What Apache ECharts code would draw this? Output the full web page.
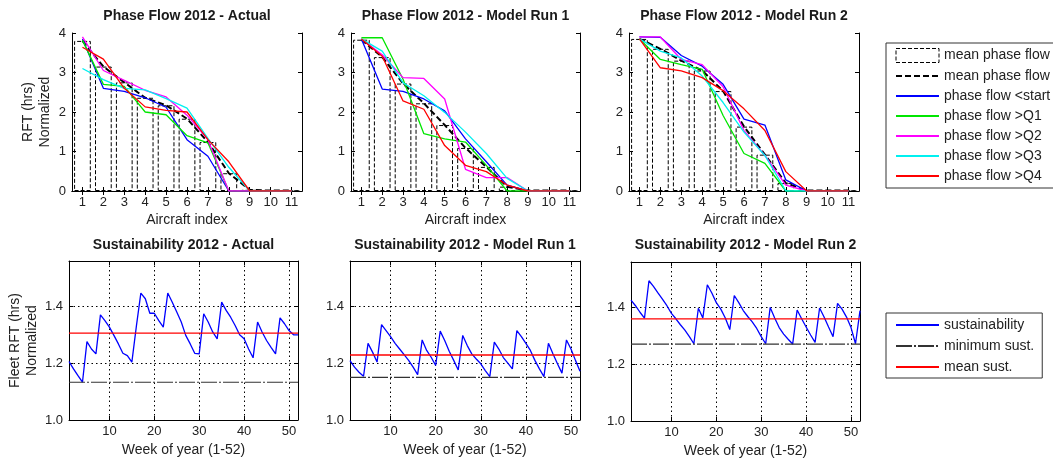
<!DOCTYPE html>
<html><head><meta charset="utf-8">
<script src="https://cdn.jsdelivr.net/npm/echarts@6/dist/echarts.min.js"></script>
<style>html,body{margin:0;padding:0;background:#fff}#c{width:1053px;height:461px}</style>
</head><body><div id="c"></div>
<script>
// ---------- DATA ----------
const aircraftIndex = ['1','2','3','4','5','6','7','8','9','10','11'];

// Phase flow 2012 - Actual
const meanActual    = [3.80, 3.15, 2.75, 2.36, 2.17, 1.83, 1.24, 0.45, 0.03, 0.01, 0.01];
const blueActual    = [3.85, 2.60, 2.52, 2.36, 2.12, 1.30, 0.88, 0, 0, 0, 0];
const greenActual   = [3.82, 2.70, 2.65, 2.00, 1.93, 1.40, 1.22, 0, 0, 0, 0];
const magentaActual = [3.90, 3.05, 2.80, 2.55, 2.38, 1.92, 1.30, 0, 0, 0, 0];
const cyanActual    = [3.10, 2.82, 2.60, 2.56, 2.34, 2.10, 1.33, 0.60, 0, 0, 0];
const redActual     = [3.64, 3.34, 2.60, 2.13, 2.04, 2.00, 1.30, 0.74, 0, 0, 0];

// Phase flow 2012 - Model Run 1
const meanRun1    = [3.83, 3.39, 2.72, 2.22, 1.67, 1.09, 0.61, 0.11, 0.01, 0.01, 0.01];
const blueRun1    = [3.85, 2.58, 2.52, 2.33, 2.03, 1.32, 0.74, 0.15, 0, 0, 0];
const greenRun1   = [3.88, 3.88, 2.83, 1.45, 1.32, 1.24, 0.65, 0, 0, 0, 0];
const magentaRun1 = [3.85, 3.45, 2.87, 2.85, 2.33, 0.55, 0.34, 0.34, 0, 0, 0];
const cyanRun1    = [3.85, 3.54, 2.74, 2.41, 1.99, 1.49, 0.95, 0.32, 0, 0, 0];
const redRun1     = [3.85, 3.41, 2.28, 2.07, 1.15, 0.65, 0.49, 0.15, 0, 0, 0];

// Phase flow 2012 - Model Run 2
const meanRun2    = [3.85, 3.60, 3.30, 3.05, 2.53, 1.63, 0.92, 0.20, 0.01, 0.01, 0.01];
const blueRun2    = [3.90, 3.89, 3.43, 3.16, 2.70, 1.82, 1.67, 0.28, 0, 0, 0];
const greenRun2   = [3.85, 3.33, 3.20, 3.08, 1.91, 0.95, 0.70, 0, 0, 0, 0];
const magentaRun2 = [3.90, 3.90, 3.33, 3.20, 2.64, 1.53, 0.90, 0.15, 0, 0, 0];
const cyanRun2    = [3.85, 3.54, 3.37, 2.91, 2.24, 1.49, 0.90, 0, 0, 0, 0];
const redRun2     = [3.85, 3.12, 3.04, 2.87, 2.54, 2.08, 1.53, 0.49, 0, 0, 0];

// Sustainability
const weeks = [1,2,3,4,5,6,7,8,9,10,11,12,13,14,15,16,17,18,19,20,21,22,23,24,25,26,
               27,28,29,30,31,32,33,34,35,36,37,38,39,40,41,42,43,44,45,46,47,48,49,50,51,52];
const weekTicks = [10, 20, 30, 40, 50];
const sustTicks = [1.0, 1.2, 1.4];
const sustActual = [1.206,1.180,1.156,1.133,1.276,1.250,1.233,1.370,1.350,1.327,
                    1.298,1.268,1.235,1.227,1.204,1.330,1.447,1.427,1.376,1.376,
                    1.350,1.327,1.447,1.415,1.380,1.345,1.298,1.268,1.235,1.233,
                    1.374,1.345,1.310,1.286,1.415,1.386,1.362,1.333,1.300,1.286,
                    1.250,1.219,1.345,1.310,1.280,1.256,1.233,1.360,1.339,1.315,
                    1.300,1.300];
const sustRun1 = [1.209,1.186,1.168,1.154,1.270,1.239,1.204,1.336,1.315,1.294,
                  1.270,1.250,1.230,1.210,1.186,1.160,1.282,1.245,1.221,1.192,
                  1.313,1.280,1.242,1.210,1.176,1.298,1.262,1.233,1.215,1.198,
                  1.174,1.153,1.274,1.250,1.220,1.200,1.180,1.315,1.294,1.270,
                  1.245,1.210,1.180,1.153,1.270,1.233,1.198,1.165,1.282,1.250,
                  1.210,1.172];
const sustRun2 = [1.426,1.406,1.383,1.362,1.494,1.474,1.451,1.429,1.406,1.379,
                  1.360,1.339,1.320,1.297,1.272,1.397,1.363,1.480,1.451,1.417,
                  1.394,1.363,1.322,1.442,1.417,1.389,1.368,1.349,1.326,1.297,
                  1.272,1.400,1.363,1.329,1.306,1.288,1.271,1.391,1.360,1.331,
                  1.303,1.277,1.398,1.366,1.331,1.297,1.414,1.394,1.366,1.329,
                  1.272,1.389];
const meanSust = [1.306, 1.229, 1.360];
const minSust  = [1.133, 1.150, 1.271];

const phaseTitles = ['Phase Flow 2012 - Actual', 'Phase Flow 2012 - Model Run 1', 'Phase Flow 2012 - Model Run 2'];
const sustTitles  = ['Sustainability 2012 - Actual', 'Sustainability 2012 - Model Run 1', 'Sustainability 2012 - Model Run 2'];
const lineNames = ['phase flow <start', 'phase flow >Q1', 'phase flow >Q2', 'phase flow >Q3', 'phase flow >Q4'];

// ---------- STYLE / LAYOUT ----------
const FONT = '"Liberation Sans", Arial, sans-serif';
const TXT = '#222';
const lineColors = ['#0000ff', '#00e600', '#ff00ff', '#00f0f0', '#ff0000'];
const topGrids = [
  {left: 72,  top: 33, width: 230, height: 158},
  {left: 351, top: 33, width: 229, height: 158},
  {left: 629, top: 33, width: 230, height: 158}
];
const botGrids = [
  {left: 69,  top: 261, width: 229, height: 159},
  {left: 350, top: 261, width: 230, height: 159},
  {left: 631, top: 262, width: 229, height: 159}
];
const phaseSets = [
  {mean: meanActual, lines: [blueActual, greenActual, magentaActual, cyanActual, redActual]},
  {mean: meanRun1,   lines: [blueRun1, greenRun1, magentaRun1, cyanRun1, redRun1]},
  {mean: meanRun2,   lines: [blueRun2, greenRun2, magentaRun2, cyanRun2, redRun2]}
];
const sustSets = [sustActual, sustRun1, sustRun2];

const axLine = {show: true, lineStyle: {color: '#000', width: 1}};
const labelStyle = {color: TXT, fontSize: 13, fontFamily: FONT};
const nameStyle = {color: TXT, fontSize: 14, fontFamily: FONT};
const minLineType = [16, 2, 2, 2];

const grid = [], xAxis = [], yAxis = [], series = [], title = [];

topGrids.forEach((g, i) => {
  grid.push(Object.assign({outerBoundsMode: 'none', containLabel: false, show: false}, g));
  title.push({text: phaseTitles[i], left: g.left + g.width / 2, top: 9, textAlign: 'center', padding: 0,
    textStyle: {fontSize: 14, fontWeight: 'bold', color: '#1a1a1a', fontFamily: FONT}});
  xAxis.push({type: 'category', gridIndex: i, data: aircraftIndex, boundaryGap: true, position: 'bottom',
    axisLine: axLine, axisTick: {show: true, inside: true, alignWithLabel: true, interval: 0, length: 4, lineStyle: {color: '#000'}},
    axisLabel: Object.assign({interval: 0, margin: 5}, labelStyle), splitLine: {show: false},
    name: 'Aircraft index', nameLocation: 'middle', nameGap: 22, nameTextStyle: nameStyle});
  xAxis.push({type: 'category', gridIndex: i, data: aircraftIndex, boundaryGap: true, position: 'top',
    axisLine: axLine, axisTick: {show: true, inside: true, alignWithLabel: true, interval: 0, length: 4, lineStyle: {color: '#000'}},
    axisLabel: {show: false}, splitLine: {show: false}});
  const yl = {type: 'value', gridIndex: i, min: 0, max: 4, interval: 1, position: 'left',
    axisLine: axLine, axisTick: {show: true, inside: true, length: 4, lineStyle: {color: '#000'}},
    axisLabel: Object.assign({margin: 6}, labelStyle), splitLine: {show: false}};
  if (i === 0) Object.assign(yl, {name: 'RFT (hrs)\nNormalized', nameLocation: 'middle', nameRotate: 90, nameGap: 18,
    nameTextStyle: Object.assign({lineHeight: 17}, nameStyle)});
  yAxis.push(yl);
  yAxis.push({type: 'value', gridIndex: i, min: 0, max: 4, interval: 1, position: 'right',
    axisLine: axLine, axisTick: {show: true, inside: true, length: 4, lineStyle: {color: '#000'}},
    axisLabel: {show: false}, splitLine: {show: false}});
  const set = phaseSets[i];
  series.push({type: 'bar', name: 'mean phase flow', xAxisIndex: 2 * i, yAxisIndex: 2 * i, data: set.mean,
    barWidth: '80%', silent: true,
    itemStyle: {color: 'rgba(0,0,0,0)', borderColor: '#000', borderWidth: 1, borderType: [4, 2]}});
  series.push({type: 'line', name: 'mean phase flow ', xAxisIndex: 2 * i, yAxisIndex: 2 * i, data: set.mean,
    symbol: 'none', silent: true, itemStyle: {color: '#000'}, lineStyle: {color: '#000', width: 2, type: [6, 3]}});
  set.lines.forEach((d, k) => {
    series.push({type: 'line', name: lineNames[k], xAxisIndex: 2 * i, yAxisIndex: 2 * i, data: d,
      symbol: 'none', silent: true, itemStyle: {color: lineColors[k]}, lineStyle: {color: lineColors[k], width: 1.3}});
  });
});

const dotted = {show: true, lineStyle: {color: '#000', width: 1, type: [1.5, 3]}};
botGrids.forEach((g, j) => {
  const gi = 3 + j;
  grid.push(Object.assign({outerBoundsMode: 'none', containLabel: false, show: false}, g));
  title.push({text: sustTitles[j], left: g.left + g.width / 2, top: 238, textAlign: 'center', padding: 0,
    textStyle: {fontSize: 14, fontWeight: 'bold', color: '#1a1a1a', fontFamily: FONT}});
  xAxis.push({type: 'value', gridIndex: gi, min: 1, max: 52, position: 'bottom',
    axisLine: axLine, axisTick: {show: true, inside: true, length: 4, customValues: weekTicks, lineStyle: {color: '#000'}},
    axisLabel: Object.assign({margin: 5, customValues: weekTicks}, labelStyle), splitLine: dotted,
    name: 'Week of year (1-52)', nameLocation: 'middle', nameGap: 23, nameTextStyle: nameStyle});
  xAxis.push({type: 'value', gridIndex: gi, min: 1, max: 52, position: 'top',
    axisLine: axLine, axisTick: {show: true, inside: true, length: 4, customValues: weekTicks, lineStyle: {color: '#000'}},
    axisLabel: {show: false}, splitLine: {show: false}});
  const yl = {type: 'value', gridIndex: gi, min: 1.0, max: 1.56, position: 'left',
    axisLine: axLine, axisTick: {show: true, inside: true, length: 4, customValues: sustTicks, lineStyle: {color: '#000'}},
    axisLabel: Object.assign({margin: 6, customValues: sustTicks, formatter: v => Number(v).toFixed(1)}, labelStyle),
    splitLine: dotted};
  if (j === 0) Object.assign(yl, {name: 'Fleet RFT (hrs)\nNormalized', nameLocation: 'middle', nameRotate: 90, nameGap: 28,
    nameTextStyle: Object.assign({lineHeight: 17}, nameStyle)});
  yAxis.push(yl);
  yAxis.push({type: 'value', gridIndex: gi, min: 1.0, max: 1.56, position: 'right',
    axisLine: axLine, axisTick: {show: true, inside: true, length: 4, customValues: sustTicks, lineStyle: {color: '#000'}},
    axisLabel: {show: false}, splitLine: {show: false}});
  series.push({type: 'line', name: 'sustainability', xAxisIndex: 2 * gi, yAxisIndex: 2 * gi,
    data: sustSets[j].map((v, k) => [weeks[k], v]), symbol: 'none', silent: true,
    itemStyle: {color: '#0000ff'}, lineStyle: {color: '#0000ff', width: 1.3}});
  series.push({type: 'line', name: 'minimum sust.', xAxisIndex: 2 * gi, yAxisIndex: 2 * gi,
    data: [[weeks[0], minSust[j]], [weeks[weeks.length - 1], minSust[j]]], symbol: 'none', silent: true,
    itemStyle: {color: '#333'}, lineStyle: {color: '#333', width: 1.2, type: minLineType}});
  series.push({type: 'line', name: 'mean sust.', xAxisIndex: 2 * gi, yAxisIndex: 2 * gi,
    data: [[weeks[0], meanSust[j]], [weeks[weeks.length - 1], meanSust[j]]], symbol: 'none', silent: true,
    itemStyle: {color: '#ff0000'}, lineStyle: {color: '#ff0000', width: 1.3}});
});

const legendText = {color: TXT, fontSize: 14, fontFamily: FONT};
const noSym = {opacity: 0};
const option = {
  animation: false,
  backgroundColor: '#fff',
  title, grid, xAxis, yAxis, series,
  legend: [
    {left: 886, top: 43, orient: 'vertical', selectedMode: false, itemWidth: 43, itemHeight: 14, itemGap: 6,
     padding: [5, 3, 5, 9], borderColor: '#333', borderWidth: 1, backgroundColor: '#fff', textStyle: legendText,
     data: [
       {name: 'mean phase flow', icon: 'rect', itemStyle: {color: 'rgba(0,0,0,0)', borderColor: '#000', borderWidth: 1, borderType: [4, 2]}},
       {name: 'mean phase flow ', itemStyle: noSym},
       ...lineNames.map(n => ({name: n, itemStyle: noSym}))
     ]},
    {left: 886, top: 313, orient: 'vertical', selectedMode: false, itemWidth: 43, itemHeight: 14, itemGap: 7,
     padding: [5, 8, 4, 9], borderColor: '#333', borderWidth: 1, backgroundColor: '#fff', textStyle: legendText,
     data: [{name: 'sustainability', itemStyle: noSym}, {name: 'minimum sust.', itemStyle: noSym}, {name: 'mean sust.', itemStyle: noSym}]}
  ]
};
const chart = echarts.init(document.getElementById('c'), null, {renderer: 'canvas'});
chart.setOption(option);
</script></body></html>
